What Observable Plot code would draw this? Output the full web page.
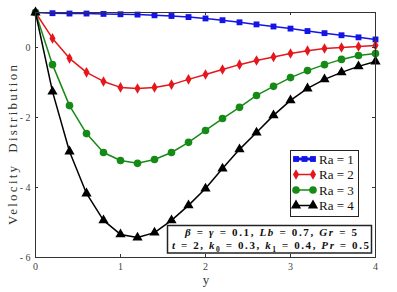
<!DOCTYPE html>
<html><head><meta charset="utf-8">
<script src="https://cdn.jsdelivr.net/npm/d3@7"></script>
<script src="https://cdn.jsdelivr.net/npm/@observablehq/plot@0.6"></script>
<style>body{margin:0;background:#fff} svg{display:block}</style>
</head><body><div id="chart"></div>
<script>
const xValues = [0, 0.2, 0.4, 0.6, 0.8, 1.0, 1.2, 1.4, 1.6, 1.8, 2.0, 2.2, 2.4, 2.6, 2.8, 3.0, 3.2, 3.4, 3.6, 3.8, 4.0];
const ra1 = [1.0, 0.98, 0.97, 0.97, 0.96, 0.95, 0.94, 0.92, 0.90, 0.87, 0.83, 0.78, 0.72, 0.66, 0.60, 0.54, 0.47, 0.41, 0.35, 0.29, 0.23];
const ra2 = [1.0, 0.26, -0.31, -0.71, -0.97, -1.14, -1.17, -1.14, -1.06, -0.91, -0.77, -0.63, -0.49, -0.37, -0.27, -0.17, -0.09, -0.03, 0.0, 0.03, 0.06];
const ra3 = [1.0, -0.49, -1.66, -2.46, -3.0, -3.23, -3.31, -3.2, -3.0, -2.71, -2.37, -2.03, -1.71, -1.37, -1.11, -0.86, -0.66, -0.49, -0.34, -0.23, -0.17];
const ra4 = [1.0, -1.26, -2.97, -4.17, -4.94, -5.34, -5.43, -5.29, -4.94, -4.51, -4.03, -3.46, -2.91, -2.43, -1.94, -1.51, -1.17, -0.91, -0.71, -0.54, -0.4];
const seriesNames = ["Ra = 1", "Ra = 2", "Ra = 3", "Ra = 4"];
const seriesValues = [ra1, ra2, ra3, ra4];
const seriesColors = ["#1414e6", "#e5161c", "#168a16", "#000000"];
const seriesSymbols = ["square", "diamond", "circle", "triangle"];
const seriesR = [3.3, 3.2, 3.8, 3.8];
const xTickLabels = [0, 1, 2, 3, 4];
const xTickMarks = [1, 2, 3];
const yTickLabels = [0, -2, -4, -6];
const yTickMarks = [0, -2, -4];
const xLabel = "y";
const yLabel = "Velocity  Distribution";
const noteLine1 = [["β", 1], [" = ", 0], ["γ", 1], [" = 0.1, ", 0], ["Lb", 1], [" = 0.7, ", 0], ["Gr", 1], [" = 5", 0]];
const noteLine2 = [["t", 1], [" = 2, ", 0], ["k", 1], ["0", 2], [" = 0.3, ", 0], ["k", 1], ["1", 2], [" = 0.4, ", 0], ["Pr", 1], [" = 0.5", 0]];

const rows = [];
seriesNames.forEach((name, i) => {
  xValues.forEach((x, j) => rows.push({series: name, x, v: seriesValues[i][j]}));
});

const W = 397, H = 292, mL = 35, mR = 22, mT = 12, mB = 35;
const innerW = W - mL - mR, innerH = H - mT - mB;
const serif = "'Liberation Serif', 'DejaVu Serif', serif";

const marks = [];
seriesNames.forEach((name, i) => {
  const d = rows.filter(r => r.series === name);
  marks.push(Plot.line(d, {x: "x", y: "v", stroke: seriesColors[i], strokeWidth: 1.5}));
  marks.push(Plot.dot(d, {x: "x", y: "v", fill: seriesColors[i], stroke: "none", symbol: seriesSymbols[i], r: seriesR[i]}));
});

const plot = Plot.plot({
  width: W, height: H,
  marginLeft: mL, marginRight: mR, marginTop: mT, marginBottom: mB,
  style: {fontFamily: serif, background: "#fff", color: "#444"},
  x: {domain: [0, 4], label: null},
  y: {domain: [-6, 1], label: null},
  marks: [
    ...marks,
    Plot.frame({stroke: "#333", strokeWidth: 1}),
    Plot.tickX(xTickMarks, {x: d => d, insetTop: innerH - 3, stroke: "#333"}),
    Plot.tickX(xTickMarks, {x: d => d, insetBottom: innerH - 3, stroke: "#333"}),
    Plot.tickY(yTickMarks, {y: d => d, insetRight: innerW - 3, stroke: "#333"}),
    Plot.tickY(yTickMarks, {y: d => d, insetLeft: innerW - 3, stroke: "#333"}),
    Plot.axisX({ticks: xTickLabels, tickSize: 0, tickPadding: 5, fontSize: 10, tickFormat: d => String(d)}),
    Plot.axisY({ticks: yTickLabels, tickSize: 0, tickPadding: 5, fontSize: 10, tickFormat: d => d < 0 ? "- " + (-d) : String(d)})
  ]
});
document.getElementById("chart").appendChild(plot);

const svg = d3.select(plot);
// axis labels
svg.append("text").attr("transform", "translate(17,145) rotate(-90)")
  .attr("text-anchor", "middle").attr("font-family", serif).attr("font-size", 13)
  .attr("fill", "#333").attr("textLength", 160).attr("lengthAdjust", "spacing").text(yLabel);
svg.append("text").attr("x", 206).attr("y", 284).attr("text-anchor", "middle")
  .attr("font-family", serif).attr("font-size", 13).attr("fill", "#333").text(xLabel);

// legend
const lg = svg.append("g").attr("text-anchor", "start");
lg.append("rect").attr("x", 290.5).attr("y", 150.5).attr("width", 68).attr("height", 66)
  .attr("fill", "#fff").attr("stroke", "#222").attr("stroke-width", 1);
const symMap = {square: d3.symbolSquare, diamond: d3.symbolDiamond, circle: d3.symbolCircle, triangle: d3.symbolTriangle};
seriesNames.forEach((name, i) => {
  const cy = 159 + i * 15.5;
  lg.append("line").attr("x1", 294).attr("x2", 315).attr("y1", cy).attr("y2", cy)
    .attr("stroke", seriesColors[i]).attr("stroke-width", i === 0 ? 3 : 1.5);
  const px = i === 0 ? [296, 304.5, 313] : [296, 313];
  px.forEach(x => lg.append("path")
    .attr("d", d3.symbol(symMap[seriesSymbols[i]], Math.PI * seriesR[i] * seriesR[i])())
    .attr("transform", `translate(${x},${cy})`).attr("fill", seriesColors[i]));
  lg.append("text").attr("x", 319).attr("y", cy + 4.5).attr("text-anchor", "start").attr("font-family", serif)
    .attr("font-size", 13).attr("fill", "#111").text(name);
});

// annotation
const ng = svg.append("g").attr("text-anchor", "start");
ng.append("rect").attr("x", 167.5).attr("y", 225.5).attr("width", 204).attr("height", 27.5)
  .attr("fill", "#fff").attr("stroke", "#222").attr("stroke-width", 1.5);
function noteText(parts, x, y, len) {
  const t = ng.append("text").attr("x", x).attr("y", y).attr("text-anchor", "start").attr("font-family", serif)
    .attr("font-size", 11).attr("font-weight", "bold").attr("fill", "#111")
    .attr("textLength", len).attr("lengthAdjust", "spacing");
  let sub = false;
  parts.forEach(([s, k]) => {
    const ts = t.append("tspan").text(s);
    if (k === 1) ts.attr("font-style", "italic");
    if (k === 2) { ts.attr("font-size", 7.5).attr("dy", 2.5); sub = true; }
    else if (sub) { ts.attr("dy", -2.5); sub = false; }
  });
}
noteText(noteLine1, 185, 236, 172);
noteText(noteLine2, 172, 249, 197);
</script></body></html>
